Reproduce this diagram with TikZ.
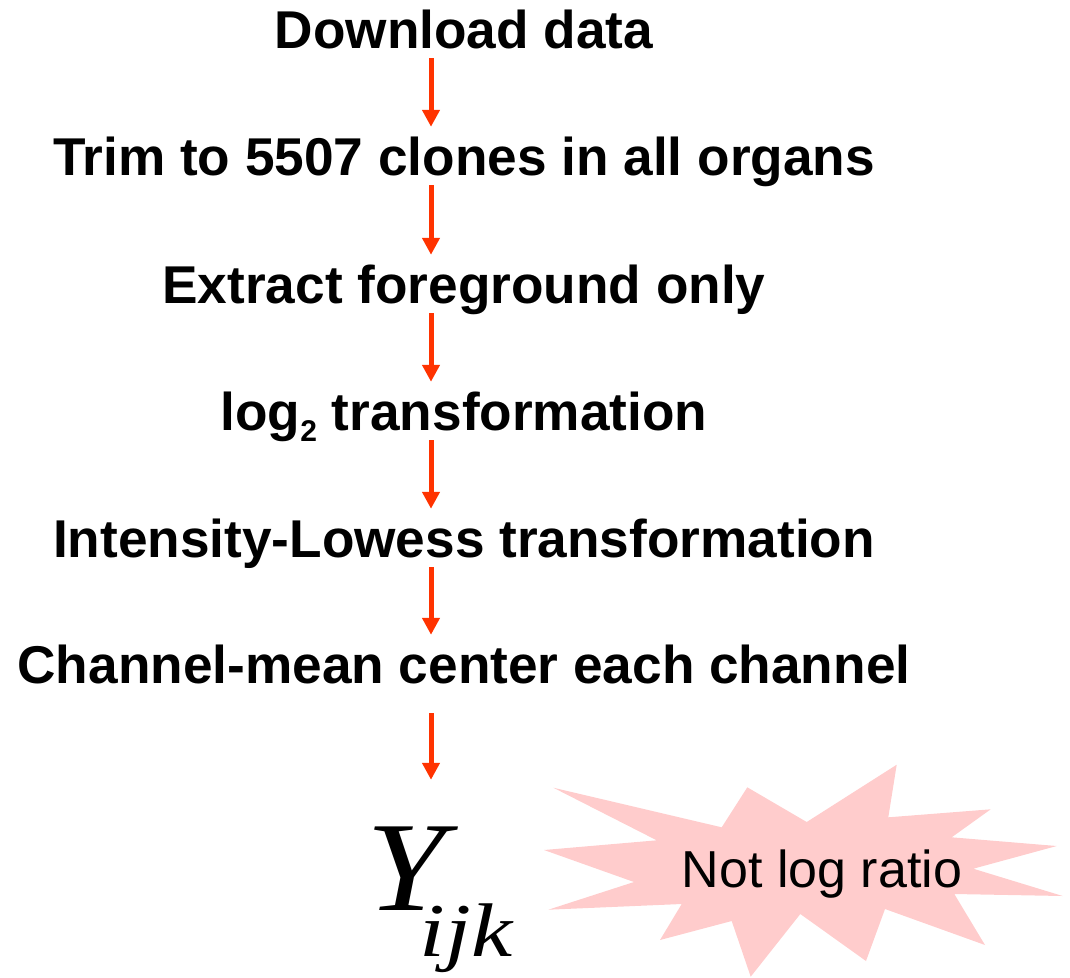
\documentclass[tikz,border=0pt]{standalone}
\usepackage{fontspec}
\setmainfont{Liberation Sans}
\newfontfamily\tms{Liberation Serif}
\usetikzlibrary{arrows.meta,calc}
\definecolor{arrred}{HTML}{FF3300}
\definecolor{burst}{HTML}{FFCCCC}
\begin{document}
\begin{tikzpicture}[x=1pt,y=-1pt,
  stepline/.style={anchor=base,inner sep=0pt,text height=38pt,text depth=11pt,font=\bfseries\fontsize{53.2}{60}\selectfont},
  arr/.style={draw=arrred,line width=5pt,-{Triangle[width=17pt,length=17pt]},arrred,shorten <=-1pt,shorten >=10pt}]
\useasboundingbox (0,0) rectangle (1070,977);
\node[stepline] (n1) at (464,48) {Download data};
\node[stepline] (n2) at (464,175) {Trim to 5507 clones in all organs};
\node[stepline] (n3) at (464,303) {Extract foreground only};
\node[stepline] (n4) at (464,430) {log\raisebox{-11pt}{\fontsize{30}{32}\selectfont 2} transformation};
\node[stepline] (n5) at (464,557) {Intensity-Lowess transformation};
\node[stepline] (n6) at (464,683) {Channel-mean center each channel};
% starburst
\fill[burst] (553.3,787.7) -- (721.7,827.3) -- (747.3,787.3) -- (806.7,822) -- (896.7,764.7) -- (888.3,817.3) -- (990.7,809.3) -- (951.7,837.3) -- (1056.7,846) -- (973.3,868.7) -- (1062.7,896) -- (954.3,894) -- (985,945) -- (885,909) -- (866,961) -- (800.3,914) -- (750.7,976.7) -- (731.7,921) -- (660,940) -- (681.7,904) -- (548.3,909.7) -- (634,882) -- (544,850) -- (656.7,840.3) -- cycle;
\node[anchor=base,inner sep=0pt,font=\fontsize{52}{60}\selectfont] (nl) at (822,887) {Not log ratio};
\node[anchor=base west,inner sep=0pt,text height=87pt,text depth=62pt] (y) at (366,910) {\tms\itshape\fontsize{124}{130}\selectfont \scalebox{1.15}[1.03]{Y}\kern-26pt\raisebox{-46pt}{\fontsize{76}{80}\selectfont\scalebox{1.22}[1]{ijk}}};
\draw[arr] ([xshift=-33pt]n1.south) -- ([xshift=-33pt]n2.north);
\draw[arr] ([xshift=-33pt]n2.south) -- ([xshift=-33pt]n3.north);
\draw[arr] ([xshift=-33pt]n3.south) -- ([xshift=-33pt]n4.north);
\draw[arr] ([xshift=-33pt]n4.south) -- ([xshift=-33pt]n5.north);
\draw[arr] ([xshift=-33pt]n5.south) -- ([xshift=-33pt]n6.north);
\draw[arr,shorten <=19pt,shorten >=43pt] ([xshift=-33pt]n6.south) -- ($(y.north -| n6.south)+(-33,0)$);
\end{tikzpicture}
\end{document}
